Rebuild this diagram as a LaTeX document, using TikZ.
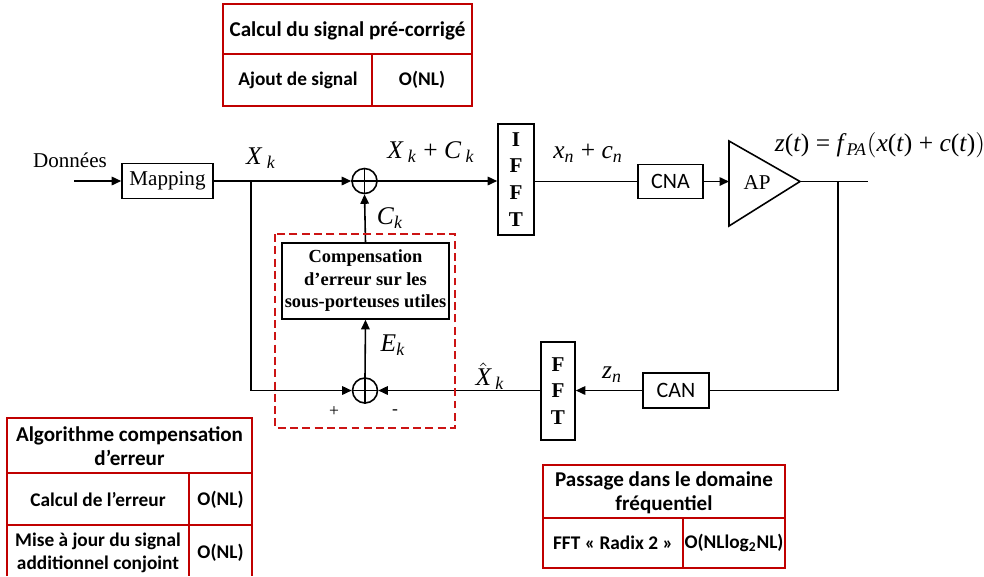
\documentclass[tikz,border=0pt]{standalone}
\usepackage{fontspec}
\setmainfont{Liberation Serif}
\newfontfamily\calfont{Carlito}
\usepackage{tikz}
\usetikzlibrary{arrows.meta,calc,positioning}
\definecolor{tabred}{RGB}{192,0,0}
\definecolor{dashred}{RGB}{204,20,20}
\newcommand{\ix}[1]{\textsubscript{\textit{#1}}}
\tikzset{
    myblock/.style={draw=black,line width=0.9pt,inner sep=0pt,font=\fontsize{12}{14}\selectfont},
    mysum/.style={circle,draw=black,line width=0.9pt,minimum size=0.5cm,inner sep=0pt},
    mywire/.style={line width=0.9pt,draw=black},
    myarrow/.style={mywire,-{Triangle[length=1.9mm,width=1.7mm]}},
    mytab/.style={draw=tabred,line width=1.1pt},
    myhead/.style={font=\calfont\bfseries\fontsize{12}{12.5}\selectfont,align=center,inner sep=0pt},
    mycell/.style={font=\calfont\bfseries\fontsize{11}{12}\selectfont,align=center,inner sep=0pt},
    mylabel/.style={font=\fontsize{14.5}{16}\selectfont,inner sep=0pt},
}

\begin{document}
\begin{tikzpicture}[x=0.02cm,y=-0.02cm]
  \useasboundingbox (0,0) rectangle (984,576);

  % tables
  \draw[mytab] (223,4) rectangle (472,106);
  \draw[mytab] (223,54) -- (472,54) (372,54) -- (372,106);
  \node[myhead] (t1h) at (347.5,31) {Calcul du signal pré-corrigé};
  \node[mycell] (t1a) at (298,80) {Ajout de signal};
  \node[mycell] (t1b) at (422,80) {O(NL)};

  \draw[mytab] (7,576) -- (7,418) -- (252,418) -- (252,576);
  \draw[mytab] (7,473) -- (252,473) (7,525) -- (252,525) (189,473) -- (189,576);
  \node[myhead] (t2h) at (129.5,446) {Algorithme compensation\\[1pt]d’erreur};
  \node[mycell] (t2a) at (98,500) {Calcul de l’erreur};
  \node[mycell] (t2b) at (220.5,500) {O(NL)};
  \node[mycell] (t2c) at (98,553) {Mise à jour du signal\\[1pt]additionnel conjoint};
  \node[mycell] (t2d) at (220.5,553) {O(NL)};

  \draw[mytab] (543,465) rectangle (785,568);
  \draw[mytab] (543,518) -- (785,518) (683,518) -- (683,568);
  \node[myhead] (t3h) at (664,493) {Passage dans le domaine\\[1pt]fréquentiel};
  \node[mycell] (t3a) at (613,543) {FFT « Radix 2 »};
  \node[mycell] (t3b) at (734,543) {O(NLlog\textsubscript{2}NL)};

  % forward path
  \coordinate (in) at (74,181);
  \node[font=\fontsize{12}{14}\selectfont] (don) at (70,160) {Données};
  \node[myblock,minimum width=1.82cm,minimum height=0.7cm] (map) at (167.5,181) {Mapping};
  \node[mysum] (s1) at (364.5,181) {};
  \draw[mywire] (s1.north) -- (s1.south) (s1.west) -- (s1.east);
  \node[myblock,minimum width=0.72cm,minimum height=2.22cm,align=center,
        font=\bfseries\fontsize{12}{15.3}\selectfont] (ifft) at (516,179.5) {I\\F\\F\\T};
  \node[myblock,minimum width=1.3cm,minimum height=0.68cm,
        font=\calfont\fontsize{12.5}{14}\selectfont] (cna) at (670.5,181.5) {CNA};
  \coordinate (apin) at (729,181.5);
  \coordinate (apout) at (800,181.5);
  \draw[mywire] (729,141) -- (apout) -- (729,226) -- cycle;
  \node[font=\fontsize{12}{14}\selectfont] (ap) at (757,183) {AP};
  \coordinate (br2) at (838,181.5);
  \coordinate (out) at (868,181.5);

  \draw[myarrow] (in) -- (map);
  \draw[myarrow] (map.east) -- (s1.west);
  \draw[myarrow] (s1.east) -- (s1.east -| ifft.west);
  \draw[mywire] (ifft.east |- cna) -- (cna.west);
  \draw[myarrow] (cna.east) -- (apin);
  \draw[mywire] (apout) -- (out);

  % feedback path
  \node[myblock,minimum width=1.32cm,minimum height=0.7cm,
        font=\calfont\fontsize{12.5}{14}\selectfont] (can) at (676,390.5) {CAN};
  \node[myblock,minimum width=0.68cm,minimum height=1.96cm,align=center,
        font=\bfseries\fontsize{12}{15.3}\selectfont] (fft) at (558,391) {F\\F\\T};
  \node[mysum] (s2) at (365,390.5) {};
  \draw[mywire] (s2.north) -- (s2.south) (s2.west) -- (s2.east);
  \node[myblock,minimum width=3.34cm,minimum height=1.52cm,align=center,
        font=\bfseries\fontsize{10.5}{12.8}\selectfont] (comp) at (365.5,281)
        {Compensation\\d’erreur sur les\\sous-porteuses utiles};
  \coordinate (br1) at (251,181);

  \draw[mywire] (br2) |- (can.east);
  \draw[myarrow] (can.west) -- (fft.east |- can);
  \draw[myarrow] (fft.west |- s2) -- (s2.east);
  \draw[myarrow] (br1) |- (s2.west);
  \draw[myarrow] (s2.north) -- (comp.south);
  \draw[myarrow] (comp.north) -- (s1.south);

  \draw[dashred,line width=1.1pt,dash pattern=on 4.5pt off 2.5pt] (275,234) rectangle (455,428);

  % labels
  \node[mylabel] (lxk) at (261,158) {\textit{X}\,\ix{k}};
  \node[mylabel] (lxc) at (431,152) {\textit{X}\,\ix{k} + \textit{C}\,\ix{k}};
  \node[mylabel] (lck) at (390,218) {\textit{C}\ix{k}};
  \node[mylabel] (lxn) at (588,153) {\textit{x}\ix{n} + \textit{c}\ix{n}};
  \node[mylabel] (lz) at (880,145) {\textit{z}(\textit{t}) = \textit{f}\ix{PA}$\bigl($\textit{x}(\textit{t}) + \textit{c}(\textit{t})$\bigr)$};
  \node[mylabel] (lek) at (393,345) {\textit{E}\ix{k}};
  \node[mylabel] (lxh) at (490,376) {$\hat{\textit{X}}$\,\ix{k}};
  \node[mylabel] (lzn) at (612,375) {\textit{z}\ix{n}};
  \node[font=\fontsize{10}{12}\selectfont] (lp) at (334,412) {+};
  \node[font=\fontsize{10}{12}\selectfont] (lm) at (395,412) {-};
\end{tikzpicture}
\end{document}
